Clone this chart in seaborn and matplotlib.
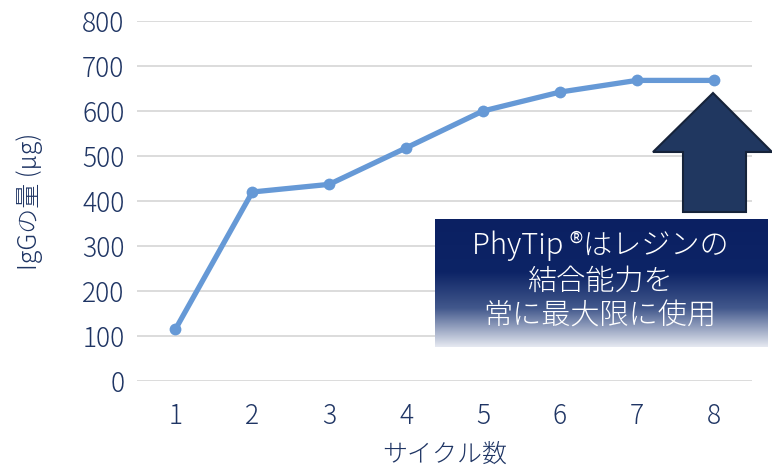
import numpy as np
import pandas as pd
import matplotlib
matplotlib.use("Agg")
import matplotlib.pyplot as plt
import seaborn as sns
from matplotlib.patches import Polygon
from matplotlib.colors import LinearSegmentedColormap

cycles = [1, 2, 3, 4, 5, 6, 7, 8]
igg_ug = [115, 420, 437, 518, 600, 642, 668, 668]
y_ticks = [0, 100, 200, 300, 400, 500, 600, 700, 800]
x_label = "サイクル数"
y_label = "IgGの量 (μg)"
box_lines = ["PhyTip ®はレジンの", "結合能力を", "常に最大限に使用"]

df = pd.DataFrame({"cycle": cycles, "igg": igg_ug})

sns.set_style("white")
plt.rcParams["font.family"] = ["Noto Sans CJK JP", "DejaVu Sans"]
plt.rcParams["font.weight"] = "light"
plt.rcParams["axes.labelweight"] = "light"

W, H = 772, 471
fig = plt.figure(figsize=(W / 100, H / 100), dpi=100)
ax = fig.add_axes([137 / W, 1 - 381 / H, (752 - 137) / W, (381 - 21) / H])

navy = "#1f3564"
line_col = "#6699d6"

sns.lineplot(data=df, x="cycle", y="igg", ax=ax, color=line_col, linewidth=3.8,
             marker="o", markersize=8.5, markeredgewidth=0, zorder=3)

ax.set_xlim(0.5, 8.5)
ax.set_ylim(0, 800)
ax.set_yticks(y_ticks)
ax.set_xticks(cycles)
ax.yaxis.grid(True, color="#d9d9d9", linewidth=1.3)
ax.xaxis.grid(False)
for s in ax.spines.values():
    s.set_visible(False)
ax.tick_params(axis="both", length=0, labelsize=19, colors=navy)
ax.tick_params(axis="y", pad=9)
ax.tick_params(axis="x", pad=15)
ax.set_xlabel(x_label, fontsize=18, color=navy, labelpad=8, fontweight="light")
ax.set_ylabel(y_label, fontsize=18, color=navy, labelpad=28, fontweight="light")


def px(x, y):
    return (x / W, 1 - y / H)


arrow_pts = [px(713, 93), px(772, 152), px(746, 152), px(746, 212),
             px(683, 212), px(683, 152), px(653, 152)]
fig.add_artist(Polygon(arrow_pts, closed=True, transform=fig.transFigure,
                       facecolor="#203760", edgecolor="#16233a", linewidth=1.5, zorder=5))

# gradient box
bx0, bx1, by0, by1 = 435, 768, 219, 347
box_ax = fig.add_axes([bx0 / W, 1 - by1 / H, (bx1 - bx0) / W, (by1 - by0) / H], zorder=6)
cmap = LinearSegmentedColormap.from_list(
    "g", [(0.0, "#0b2062"), (0.42, "#0d2466"), (0.7, "#42588c"), (1.0, "#e6e9f1")])
grad = np.linspace(0, 1, 256).reshape(-1, 1)
box_ax.imshow(grad, aspect="auto", cmap=cmap, extent=[0, 1, 1, 0])
box_ax.set_xlim(0, 1)
box_ax.set_ylim(1, 0)
box_ax.axis("off")

for line, yy in zip(box_lines, [246, 281, 316]):
    fig.text(600 / W, 1 - yy / H, line, ha="center", va="center", color="white",
             fontsize=21, fontweight="light", zorder=7)

fig.savefig("out.png", dpi=100)
